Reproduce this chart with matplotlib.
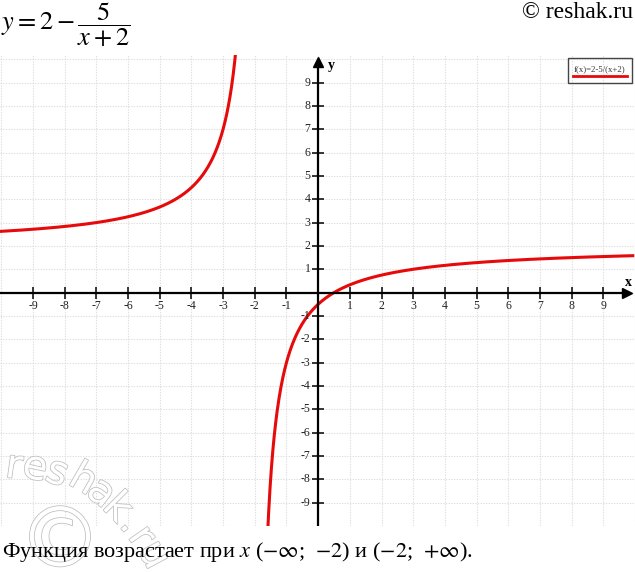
import numpy as np
import matplotlib
matplotlib.use("Agg")
import matplotlib.pyplot as plt
import matplotlib.patheffects as pe
from matplotlib.patches import Rectangle

# ---- data ----
a_const = 2.0      # y = a - b/(x + c)
b_const = 5.0
c_const = 2.0
x_ticks = [-9, -8, -7, -6, -5, -4, -3, -2, -1, 1, 2, 3, 4, 5, 6, 7, 8, 9]
y_ticks = [-9, -8, -7, -6, -5, -4, -3, -2, -1, 1, 2, 3, 4, 5, 6, 7, 8, 9]
grid_x = list(range(-10, 11))
grid_y = list(range(-10, 11))
x_min, x_max = -10.04, 9.93
y_min, y_max = -9.97, 10.18
legend_label = "f(x)=2-5/(x+2)"

plt.rcParams['mathtext.fontset'] = 'stix'
serif = ['Liberation Serif', 'DejaVu Serif']

W, H = 635, 573
fig = plt.figure(figsize=(W / 100, H / 100), dpi=100)

def fx(px):
    return px / W

def fy(py):
    return 1 - py / H

ax = fig.add_axes([0, fy(526), 1, (526 - 55) / H])
ax.set_xlim(x_min, x_max)
ax.set_ylim(y_min, y_max)
for s in ax.spines.values():
    s.set_visible(False)
ax.set_xticks(grid_x)
ax.set_yticks(grid_y)
ax.tick_params(length=0, labelbottom=False, labelleft=False)
ax.grid(True, color='#dedede', linestyle=(0, (1.2, 1.2)), linewidth=0.8)

# curve branches
xl = np.linspace(x_min, -c_const - 0.05, 800)
xr = np.linspace(-c_const + 0.05, x_max, 800)
red = '#e60a0a'
for xs in (xl, xr):
    ys = a_const - b_const / (xs + c_const)
    ax.plot(xs, ys, color=red, lw=2.2, zorder=3)

# axes lines with arrows
ax.axhline(0, xmax=0.985, color='black', lw=1.6, zorder=4)
ax.axvline(0, ymax=0.985, color='black', lw=1.6, zorder=4)
ax.plot(0.988, 0, marker='>', color='black', ms=7, transform=ax.get_yaxis_transform(),
        clip_on=False, zorder=5)
ax.plot(0, 0.985, marker='^', color='black', ms=7, transform=ax.get_xaxis_transform(),
        clip_on=False, zorder=5)

# tick marks
ax.plot(x_ticks, [0] * len(x_ticks), linestyle='none', marker='|', ms=9, mew=1.1,
        color='black', zorder=5)
ax.plot([0] * len(y_ticks), y_ticks, linestyle='none', marker='_', ms=9, mew=1.1,
        color='black', zorder=5)

# tick labels
for t in x_ticks:
    ax.annotate(str(t), (t, 0), xytext=(0, -5.5), textcoords='offset points',
                ha='center', va='top', fontsize=8.5, family=serif, color='#222222')
for t in y_ticks:
    ax.annotate(str(t), (0, t), xytext=(-5.5, 0), textcoords='offset points',
                ha='right', va='center', fontsize=8.5, family=serif, color='#222222')

fig.text(fx(628), fy(282), 'x', fontsize=10, family=serif, fontweight='bold',
         ha='center', va='center')
fig.text(fx(331), fy(66), 'y', fontsize=10, family=serif, fontweight='bold',
         ha='center', va='center')

# legend box
fig.text(fx(600), fy(69), legend_label, fontsize=6.3, family=serif, ha='center',
         va='center', color='#333333')
fig.patches.append(Rectangle((fx(568), fy(83)), (632 - 568) / W, (83 - 58) / H,
                             transform=fig.transFigure, fill=False,
                             edgecolor='#444444', lw=1.0))
fig.lines.append(plt.Line2D([fx(573), fx(627)], [fy(76), fy(76)],
                            transform=fig.transFigure, color=red, lw=2.0))

# header texts
fig.text(fx(1), fy(25), r'$y = 2 - \dfrac{5}{x + 2}$', fontsize=19,
         ha='left', va='center')
fig.text(fx(633), fy(12), '© reshak.ru', fontsize=17, family=serif,
         ha='right', va='center')

# bottom text
fig.text(fx(2), fy(552),
         r'Функция возрастает при $x$ ($-\infty$;  $-2$) и ($-2$;  $+\infty$).',
         fontsize=16, family=serif, ha='left', va='center', zorder=20)

# watermark
wm = [('r', 14, 467, -8), ('e', 35, 468, -12), ('s', 57, 473, -20),
      ('h', 83, 480, -30), ('a', 101, 493, -38), ('k', 117, 508, -45),
      ('.', 131, 523, -50), ('r', 141, 537, -55), ('u', 153, 555, -62)]
for ch, px, py, rot in wm:
    fig.text(fx(px), fy(py), ch, fontsize=29, family='DejaVu Sans', color='white',
             rotation=rot, ha='center', va='center', zorder=10,
             path_effects=[pe.withStroke(linewidth=1.1, foreground='#bdbdbd')])
fig.text(fx(60), fy(543), '©', fontsize=60, family='DejaVu Sans', color='white',
         ha='center', va='center', zorder=9,
         path_effects=[pe.withStroke(linewidth=1.1, foreground='#bdbdbd')])

fig.savefig('out.png', dpi=100)
